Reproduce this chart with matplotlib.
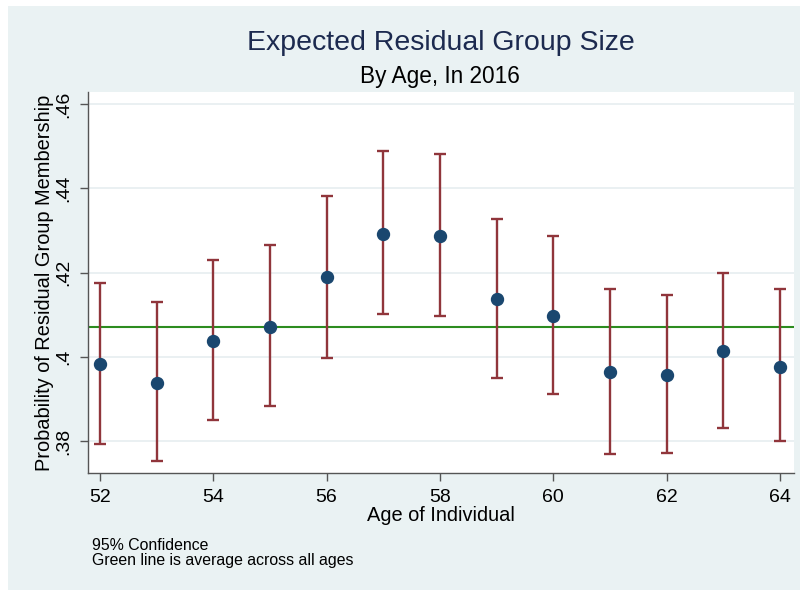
import matplotlib
matplotlib.use("Agg")
import matplotlib.pyplot as plt
from matplotlib.patches import Rectangle

plt.rcParams['font.family'] = ['Liberation Sans', 'DejaVu Sans']

# data
ages = [52, 53, 54, 55, 56, 57, 58, 59, 60, 61, 62, 63, 64]
estimate = [0.3983, 0.3939, 0.4038, 0.4071, 0.4189, 0.4293, 0.4288,
            0.4138, 0.4098, 0.3963, 0.3956, 0.4013, 0.3976]
ci_upper = [0.4176, 0.4131, 0.4230, 0.4265, 0.4382, 0.4488, 0.4482,
            0.4328, 0.4287, 0.4160, 0.4146, 0.4198, 0.4160]
ci_lower = [0.3793, 0.3753, 0.3850, 0.3883, 0.3998, 0.4102, 0.4098,
            0.3950, 0.3911, 0.3769, 0.3772, 0.3832, 0.3800]
average = 0.4071
x_ticks = [52, 54, 56, 58, 60, 62, 64]
y_ticks = [0.38, 0.40, 0.42, 0.44, 0.46]
y_tick_labels = [".38", ".4", ".42", ".44", ".46"]

bg = "#EAF2F3"
bar_color = "#90353B"
marker_color = "#1A476F"
line_color = "#2C8C1F"

fig = plt.figure(figsize=(8.01, 5.9), dpi=100)
fig.patch.set_facecolor("white")
fig.patches.append(Rectangle((8 / 801, 0), 792 / 801, 584 / 590,
                             transform=fig.transFigure, facecolor=bg,
                             edgecolor="none", zorder=-10))

ax = fig.add_axes([88 / 801, 1 - 473.3 / 590, 706 / 801, 381.3 / 590])
ax.set_zorder(1)
ax.set_facecolor("white")

err_low = [e - l for e, l in zip(estimate, ci_lower)]
err_high = [u - e for e, u in zip(estimate, ci_upper)]

ax.axhline(average, color=line_color, lw=1.5, zorder=2)
ax.errorbar(ages, estimate, yerr=[err_low, err_high], fmt="none",
            ecolor=bar_color, elinewidth=1.7, capsize=4.3, capthick=1.7,
            zorder=3)
ax.plot(ages, estimate, "o", color=marker_color, markersize=8.6, zorder=4)

ax.set_xlim(51.79, 64.25)
ax.set_ylim(0.37233, 0.46292)
ax.set_xticks(x_ticks)
ax.set_xticklabels([str(t) for t in x_ticks])
ax.set_yticks(y_ticks)
ax.set_yticklabels(y_tick_labels, rotation=90, va="center")
ax.yaxis.grid(True, color="#E6EEF0", lw=1.2)
ax.set_axisbelow(True)

for side in ["top", "right"]:
    ax.spines[side].set_visible(False)
for side in ["left", "bottom"]:
    ax.spines[side].set_color("#555555")
    ax.spines[side].set_linewidth(1.0)
ax.tick_params(axis="both", length=6, width=1.0, color="#555555",
               labelsize=14, pad=5)

ax.set_xlabel("Age of Individual", fontsize=14.4, labelpad=0)
ax.set_ylabel("Probability of Residual Group Membership", fontsize=14.4,
              labelpad=1)

fig.text(441 / 801, 1 - 43 / 590, "Expected Residual Group Size",
         ha="center", va="center", fontsize=20.5, color="#1C2A4F")
fig.text(440 / 801, 1 - 76 / 590, "By Age, In 2016",
         ha="center", va="center", fontsize=16.3, color="black")
fig.text(92 / 801, 1 - 545 / 590, "95% Confidence",
         ha="left", va="center", fontsize=11.4)
fig.text(92 / 801, 1 - 560 / 590, "Green line is average across all ages",
         ha="left", va="center", fontsize=11.4)

fig.savefig("out.png", dpi=100, facecolor=fig.get_facecolor())
